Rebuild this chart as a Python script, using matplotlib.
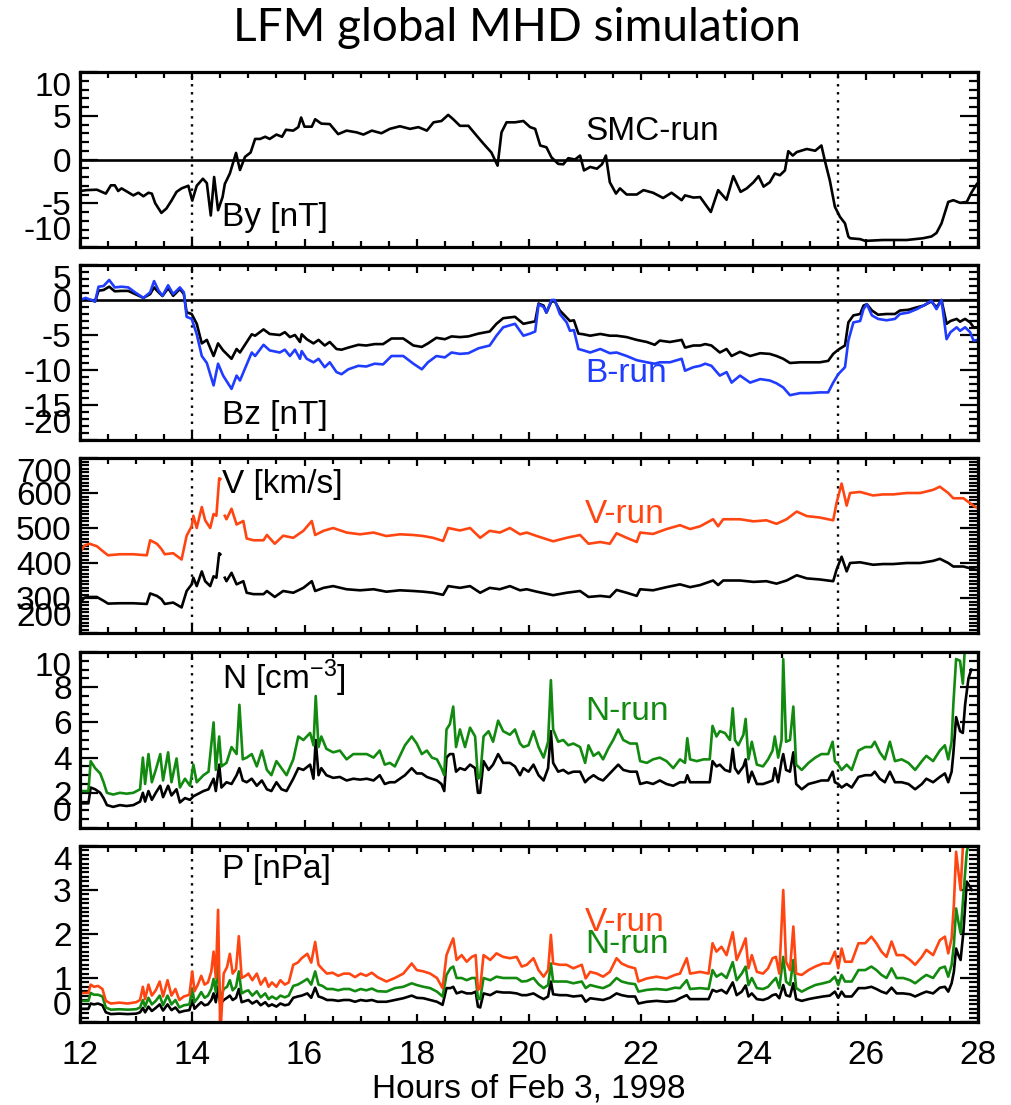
import numpy as np
import matplotlib
matplotlib.use("Agg")
import matplotlib.pyplot as plt
from matplotlib.ticker import MultipleLocator

nan = np.nan

# ---------------------------------------------------------------- By (SMC run)
by_time = [
    12.00, 12.12, 12.30, 12.46, 12.55, 12.62, 12.68, 12.74, 12.95, 13.04,
    13.13, 13.22, 13.28, 13.34, 13.45, 13.54, 13.63, 13.72, 13.81, 13.93,
    14.00, 14.08, 14.19, 14.26, 14.33, 14.39, 14.46, 14.54, 14.58, 14.67,
    14.78, 14.85, 14.94, 15.04, 15.12, 15.21, 15.30, 15.38, 15.50, 15.60,
    15.67, 15.80, 15.89, 15.94, 16.00, 16.13, 16.19, 16.30, 16.45, 16.60,
    16.75, 16.93, 17.05, 17.20, 17.37, 17.52, 17.70, 17.88, 18.03, 18.18,
    18.30, 18.44, 18.56, 18.65, 18.77, 18.92, 19.07, 19.19, 19.33, 19.44,
    19.51, 19.60, 19.75, 19.90, 20.02, 20.11, 20.20, 20.31, 20.40, 20.52,
    20.61, 20.70, 20.82, 20.91, 20.98, 21.09, 21.21, 21.30, 21.37, 21.44,
    21.55, 21.62, 21.74, 21.92, 22.04, 22.21, 22.39, 22.54, 22.72, 22.78,
    22.93, 23.05, 23.24, 23.37, 23.52, 23.64, 23.77, 23.88, 24.00, 24.09,
    24.18, 24.29, 24.38, 24.47, 24.56, 24.62, 24.70, 24.77, 24.95, 25.10,
    25.21, 25.27, 25.36, 25.45, 25.54, 25.63, 25.69, 25.72, 25.90, 25.99,
    26.31, 26.73, 27.02, 27.17, 27.26, 27.35, 27.47, 27.56, 27.68, 27.80,
    27.89, 27.98,
]
by_smc = [
    -3.6, -3.5, -3.45, -3.9, -2.95, -2.95, -3.6, -3.3, -4.1, -3.8,
    -4.2, -3.8, -3.9, -5.0, -6.1, -5.6, -4.7, -3.7, -3.3, -3.0,
    -4.7, -3.0, -2.2, -2.7, -6.4, -2.0, -5.8, -4.3, -2.8, -1.6,
    0.75, -1.2, 0.3, 0.8, 2.35, 2.35, 2.6, 2.35, 2.85, 2.6,
    3.4, 3.3, 3.7, 4.8, 3.75, 3.75, 4.6, 4.1, 4.05, 2.9,
    3.3, 3.1, 2.85, 3.3, 3.0, 3.5, 3.8, 3.5, 3.7, 3.3,
    4.25, 4.4, 5.1, 4.6, 3.85, 3.85, 2.7, 1.8, 0.8, -0.7,
    3.1, 4.25, 4.25, 4.4, 3.7, 3.5, 1.6, 1.4, 0.25, -0.5,
    -0.55, 0.15, 0.0, 0.45, -1.25, -0.85, -1.05, -0.55, 0.45, -2.6,
    -3.9, -3.3, -4.0, -4.0, -3.5, -3.8, -4.4, -3.8, -4.65, -4.1,
    -4.35, -4.3, -6.0, -3.5, -4.6, -1.9, -3.7, -3.3, -2.6, -1.9,
    -3.1, -2.6, -1.6, -1.8, -1.25, 0.95, 0.45, 0.85, 1.2, 1.0,
    1.6, -0.1, -2.4, -5.4, -6.55, -7.3, -8.8, -9.0, -9.1, -9.3,
    -9.2, -9.2, -9.0, -8.8, -8.4, -7.3, -4.85, -4.65, -4.95, -4.85,
    -3.7, -2.8,
]

# ---------------------------------------------------------------- Bz
bz_time = [
    12.00, 12.10, 12.27, 12.33, 12.42, 12.52, 12.62, 12.74, 12.86, 12.98,
    13.13, 13.25, 13.32, 13.40, 13.47, 13.57, 13.66, 13.78, 13.85, 13.90,
    13.99, 14.08, 14.17, 14.26, 14.38, 14.46, 14.55, 14.70, 14.79, 14.85,
    15.06, 15.12, 15.27, 15.38, 15.56, 15.65, 15.74, 15.83, 15.92, 15.95,
    16.04, 16.16, 16.25, 16.36, 16.45, 16.57, 16.66, 16.78, 16.96, 17.10,
    17.25, 17.40, 17.55, 17.76, 17.94, 18.09, 18.20, 18.35, 18.50, 18.62,
    18.77, 18.92, 19.10, 19.30, 19.42, 19.54, 19.75, 19.90, 20.02, 20.11,
    20.17, 20.26, 20.31, 20.40, 20.46, 20.55, 20.67, 20.73, 20.80, 20.88,
    20.97, 21.09, 21.27, 21.44, 21.56, 21.74, 21.92, 22.10, 22.24, 22.33,
    22.51, 22.72, 22.78, 22.93, 23.05, 23.14, 23.25, 23.40, 23.52, 23.61,
    23.76, 23.94, 24.12, 24.29, 24.41, 24.53, 24.65, 24.83, 25.00, 25.18,
    25.33, 25.42, 25.51, 25.63, 25.69, 25.78, 25.90, 25.96, 26.02, 26.11,
    26.22, 26.37, 26.52, 26.61, 26.76, 26.91, 27.03, 27.17, 27.26, 27.35,
    27.44, 27.51, 27.62, 27.68, 27.77, 27.86, 27.92, 28.00,
]
bz_smc = [
    -0.1, 0.15, -0.2, 1.33, 1.43, 1.9, 1.24, 1.3, 1.3, 0.85,
    0.3, 0.85, 1.8, 1.1, 0.57, 1.7, 0.6, 1.57, 0.85, -1.76,
    -2.0, -3.4, -6.2, -5.7, -8.0, -6.2, -7.2, -8.4, -7.0, -7.5,
    -4.9, -5.1, -4.2, -4.85, -5.0, -4.6, -5.3, -5.0, -6.0, -4.9,
    -5.6, -6.2, -5.7, -6.5, -6.0, -7.0, -7.1, -6.8, -6.4, -6.5,
    -6.3, -6.3, -5.5, -5.5, -6.5, -6.7, -6.2, -5.4, -5.6, -5.2,
    -5.3, -5.2, -4.8, -4.5, -3.4, -2.6, -2.4, -3.4, -3.2, -3.05,
    -0.5, -0.8, -1.8, -0.2, -0.2, -1.5, -2.5, -3.0, -2.9, -4.8,
    -4.9, -5.1, -4.85, -5.1, -5.1, -5.3, -5.7, -6.0, -6.4, -5.8,
    -6.0, -5.7, -6.8, -6.5, -6.5, -6.3, -6.5, -7.5, -7.0, -8.0,
    -7.4, -8.0, -7.6, -7.7, -8.0, -8.4, -9.0, -8.9, -8.9, -8.9,
    -8.7, -7.7, -7.1, -6.5, -3.2, -2.2, -2.0, -0.8, -0.6, -1.5,
    -2.1, -2.0, -2.0, -1.5, -1.4, -1.05, -0.8, -0.2, -1.05, 0.0,
    -3.4, -3.0, -2.7, -3.1, -2.7, -3.2, -3.9, -3.9,
]
bz_brun = [
    0.0, 0.3, -0.2, 1.9, 2.0, 2.86, 1.8, 1.9, 1.8, 1.1,
    0.3, 1.1, 2.7, 1.35, 0.6, 2.1, 0.85, 1.8, 1.1, -2.4,
    -2.7, -4.9, -8.0, -9.0, -12.2, -9.1, -10.8, -12.7, -10.8, -11.5,
    -7.5, -8.0, -6.4, -7.2, -7.5, -7.1, -8.0, -7.1, -8.4, -7.3,
    -8.4, -8.9, -8.4, -9.6, -8.9, -10.3, -10.6, -9.9, -9.4, -9.5,
    -9.1, -9.2, -8.0, -8.0, -9.1, -9.9, -8.9, -8.0, -8.2, -7.5,
    -7.7, -7.6, -6.9, -6.5, -5.1, -3.9, -3.4, -5.1, -4.8, -4.5,
    -0.6, -1.0, -1.8, 0.0, 0.0, -2.0, -3.2, -4.4, -4.3, -7.0,
    -7.2, -7.5, -7.0, -7.6, -7.5, -8.0, -8.6, -8.9, -9.1, -8.9,
    -8.9, -8.4, -10.1, -9.6, -9.4, -9.1, -9.4, -10.8, -10.3, -11.8,
    -10.8, -11.8, -11.3, -11.5, -11.9, -12.5, -13.6, -13.3, -13.3, -13.2,
    -13.2, -11.8, -10.6, -9.6, -5.8, -3.2, -3.0, -1.3, -0.6, -2.2,
    -2.7, -2.9, -2.7, -2.0, -1.8, -1.3, -0.8, -0.1, -1.3, 0.0,
    -5.6, -4.6, -3.9, -4.4, -3.9, -4.6, -5.8, -5.7,
]

# ---------------------------------------------------------------- V
v_time = [
    12.00, 12.08, 12.17, 12.30, 12.42, 12.50, 12.71, 12.95, 13.19, 13.25,
    13.37, 13.45, 13.51, 13.66, 13.81, 13.90, 13.99, 14.02, 14.08, 14.17,
    14.23, 14.32, 14.38, 14.43, 14.48, 14.50, 14.53, 14.58, 14.61, 14.70,
    14.79, 14.91, 14.97, 15.09, 15.27, 15.33, 15.47, 15.62, 15.80, 15.98,
    16.13, 16.19, 16.34, 16.51, 16.75, 16.99, 17.23, 17.46, 17.70, 17.94,
    18.12, 18.29, 18.47, 18.56, 18.77, 18.95, 19.13, 19.30, 19.48, 19.66,
    19.84, 19.96, 20.14, 20.43, 20.67, 20.91, 21.06, 21.27, 21.44, 21.56,
    21.74, 21.92, 21.98, 22.21, 22.45, 22.69, 22.87, 23.05, 23.28, 23.37,
    23.46, 23.76, 24.00, 24.23, 24.41, 24.59, 24.77, 24.95, 25.18, 25.42,
    25.48, 25.57, 25.66, 25.72, 25.90, 26.13, 26.31, 26.49, 26.73, 26.97,
    27.20, 27.32, 27.47, 27.56, 27.74, 27.95, 28.00,
]
v_smc = [
    287, 301, 303, 303, 292, 284, 285, 285, 283, 313,
    306, 297, 283, 287, 273, 320, 339, 358, 334, 376,
    348, 334, 362, 358, 428, 425, nan, 358, 348, 372,
    339, 348, 315, 311, 311, 320, 303, 320, 315, 329,
    348, 320, 329, 334, 325, 322, 325, 318, 322, 320,
    318, 315, 309, 334, 329, 334, 315, 329, 325, 334,
    322, 325, 318, 308, 315, 320, 303, 306, 303, 323,
    315, 306, 325, 322, 331, 339, 331, 337, 350, 337,
    350, 350, 346, 348, 341, 350, 365, 356, 353, 348,
    381, 418, 376, 400, 402, 395, 397, 397, 400, 400,
    406, 412, 400, 390, 390, 381, 380,
]
v_vrun = [
    430, 450, 455, 448, 432, 422, 425, 425, 422, 465,
    455, 440, 425, 428, 410, 478, 505, 535, 500, 560,
    522, 500, 540, 535, 642, 640, nan, 535, 525, 555,
    510, 520, 470, 465, 465, 480, 455, 478, 472, 492,
    520, 480, 492, 500, 487, 482, 487, 477, 482, 480,
    477, 472, 463, 500, 493, 500, 472, 492, 487, 500,
    482, 487, 477, 462, 472, 480, 455, 460, 455, 485,
    472, 460, 487, 483, 497, 508, 497, 505, 525, 505,
    525, 525, 519, 522, 512, 525, 547, 534, 530, 522,
    572, 627, 564, 600, 603, 593, 596, 596, 600, 600,
    609, 618, 600, 585, 585, 560, 558,
]

# ---------------------------------------------------------------- N
n_time = [
    12.00, 12.15, 12.19, 12.27, 12.36, 12.42, 12.48, 12.59, 12.71, 12.83,
    12.95, 13.07, 13.12, 13.16, 13.22, 13.28, 13.35, 13.43, 13.48, 13.57,
    13.63, 13.72, 13.78, 13.87, 13.96, 14.02, 14.08, 14.20, 14.29, 14.38,
    14.42, 14.48, 14.52, 14.61, 14.70, 14.79, 14.84, 14.90, 14.97, 15.06,
    15.15, 15.24, 15.33, 15.41, 15.50, 15.59, 15.68, 15.80, 15.89, 15.98,
    16.10, 16.16, 16.20, 16.25, 16.30, 16.39, 16.51, 16.63, 16.75, 16.87,
    16.99, 17.11, 17.23, 17.34, 17.43, 17.52, 17.61, 17.70, 17.79, 17.91,
    18.00, 18.09, 18.18, 18.27, 18.36, 18.44, 18.49, 18.53, 18.59, 18.65,
    18.70, 18.77, 18.86, 18.95, 19.04, 19.09, 19.13, 19.19, 19.28, 19.36,
    19.45, 19.54, 19.66, 19.75, 19.84, 19.90, 19.99, 20.08, 20.17, 20.26,
    20.34, 20.39, 20.43, 20.52, 20.61, 20.70, 20.79, 20.91, 21.00, 21.06,
    21.15, 21.24, 21.32, 21.41, 21.50, 21.59, 21.68, 21.80, 21.92, 21.98,
    22.10, 22.21, 22.33, 22.45, 22.57, 22.69, 22.78, 22.82, 22.87, 22.99,
    23.11, 23.22, 23.27, 23.34, 23.40, 23.49, 23.58, 23.63, 23.67, 23.73,
    23.82, 23.86, 23.91, 23.97, 24.06, 24.17, 24.26, 24.34, 24.38, 24.44,
    24.50, 24.53, 24.58, 24.65, 24.71, 24.76, 24.86, 24.98, 25.10, 25.21,
    25.33, 25.41, 25.45, 25.51, 25.57, 25.66, 25.75, 25.87, 25.99, 26.10,
    26.16, 26.25, 26.34, 26.43, 26.52, 26.64, 26.76, 26.88, 27.00, 27.08,
    27.20, 27.32, 27.41, 27.47, 27.53, 27.56, 27.61, 27.68, 27.73, 27.77,
    27.83, 27.88,
]
n_smc = [
    1.4, 1.4, 2.3, 2.2, 2.0, 1.7, 1.3, 1.2, 1.3, 1.25,
    1.3, 1.5, 2.0, 1.5, 2.1, 1.6, 2.0, 2.4, 1.75, 2.4,
    1.85, 2.2, 1.45, 1.7, 1.6, 1.8, 1.9, 2.1, 2.2, 2.8,
    2.1, 3.6, 2.3, 2.6, 2.5, 3.0, 3.4, 2.7, 2.6, 2.8,
    2.4, 2.7, 2.2, 2.1, 2.6, 2.2, 2.1, 2.8, 3.4, 3.3,
    3.6, 2.8, 5.0, 3.0, 3.4, 3.0, 2.85, 2.9, 2.7, 2.8,
    2.75, 2.8, 2.7, 3.0, 2.5, 2.6, 2.6, 2.8, 3.0, 3.4,
    3.1, 3.1, 2.9, 2.8, 2.7, 2.5, 2.1, 4.0, 4.2, 4.2,
    3.2, 3.4, 3.3, 3.6, 3.4, 2.0, 2.0, 3.8, 3.3, 3.6,
    4.2, 3.7, 3.7, 3.5, 3.0, 3.4, 3.2, 3.6, 3.0, 2.7,
    3.4, 5.5, 3.7, 3.2, 3.3, 3.1, 3.2, 3.2, 2.6, 2.8,
    3.0, 2.8, 2.7, 3.0, 3.3, 3.6, 3.3, 3.2, 3.2, 2.5,
    2.6, 2.5, 2.7, 2.5, 2.4, 2.6, 2.6, 3.0, 2.6, 2.6,
    2.6, 2.6, 3.8, 3.5, 3.6, 3.3, 3.2, 4.5, 3.4, 3.1,
    3.5, 3.9, 2.6, 3.2, 2.5, 2.5, 2.6, 2.7, 3.4, 2.6,
    3.8, 4.2, 3.3, 3.2, 4.3, 2.5, 2.2, 2.5, 2.6, 2.7,
    2.7, 3.2, 2.6, 2.5, 2.3, 2.5, 2.3, 2.9, 3.0, 3.0,
    3.2, 2.8, 2.6, 3.2, 2.6, 2.6, 2.5, 2.2, 2.5, 2.8,
    2.6, 2.9, 3.1, 2.6, 3.2, 4.2, 6.3, 5.5, 5.4, 7.0,
    8.5, 9.0,
]
n_nrun = [
    2.1, 2.1, 3.8, 3.4, 3.1, 2.6, 2.0, 1.9, 2.0, 1.95,
    2.0, 2.2, 4.0, 2.5, 4.2, 2.6, 3.3, 4.2, 2.7, 4.3,
    2.6, 3.95, 2.3, 2.8, 2.4, 3.6, 2.6, 3.0, 3.2, 6.0,
    3.3, 5.2, 3.5, 3.7, 4.6, 4.2, 7.0, 3.9, 4.0, 4.2,
    3.5, 4.4, 3.3, 3.0, 3.8, 3.4, 3.0, 3.9, 5.2, 5.0,
    5.4, 4.7, 7.5, 4.6, 5.2, 4.5, 4.3, 4.4, 3.9, 4.2,
    4.2, 4.2, 4.0, 4.4, 3.6, 3.7, 3.5, 4.1, 4.7, 5.2,
    4.8, 4.2, 4.4, 4.0, 3.9, 3.4, 3.0, 5.6, 5.9, 6.9,
    4.6, 5.6, 4.6, 5.7, 5.2, 2.8, 2.9, 5.2, 5.5, 4.9,
    6.1, 5.5, 5.3, 5.6, 4.8, 4.6, 4.7, 5.5, 4.6, 4.0,
    4.9, 8.4, 5.6, 4.9, 5.0, 4.7, 4.8, 4.6, 3.7, 4.7,
    4.1, 4.3, 3.9, 4.5, 5.0, 5.6, 5.0, 4.8, 4.8, 3.8,
    3.7, 3.9, 4.0, 3.8, 3.4, 3.9, 3.7, 5.1, 3.9, 3.8,
    3.9, 3.9, 5.8, 5.2, 5.5, 5.4, 5.0, 6.8, 5.0, 4.7,
    5.3, 6.2, 3.9, 4.9, 3.6, 3.5, 3.9, 4.4, 5.2, 4.0,
    5.0, 9.6, 4.9, 5.0, 6.9, 3.6, 3.3, 3.7, 4.0, 4.2,
    4.2, 4.9, 3.8, 3.6, 3.3, 3.6, 3.3, 4.4, 4.6, 4.6,
    4.9, 4.3, 3.9, 4.9, 3.8, 3.9, 3.7, 3.3, 3.8, 4.1,
    3.8, 4.4, 4.7, 3.9, 4.9, 7.0, 9.6, 9.5, 8.2, 10.5,
    10.8, 11.0,
]

# ---------------------------------------------------------------- P
p_time = [
    12.00, 12.15, 12.19, 12.25, 12.32, 12.40, 12.46, 12.55, 12.70, 12.85,
    13.00, 13.07, 13.12, 13.16, 13.22, 13.28, 13.35, 13.42, 13.48, 13.56,
    13.63, 13.70, 13.77, 13.85, 13.95, 14.00, 14.04, 14.10, 14.16, 14.22,
    14.28, 14.34, 14.38, 14.42, 14.46, 14.50, 14.56, 14.62, 14.67, 14.72,
    14.78, 14.83, 14.88, 14.95, 15.00, 15.07, 15.15, 15.22, 15.30, 15.36,
    15.42, 15.50, 15.57, 15.65, 15.72, 15.80, 15.88, 15.95, 16.05, 16.12,
    16.19, 16.25, 16.32, 16.40, 16.50, 16.60, 16.70, 16.80, 16.90, 17.00,
    17.10, 17.20, 17.30, 17.46, 17.61, 17.76, 17.91, 18.00, 18.12, 18.24,
    18.36, 18.46, 18.53, 18.60, 18.65, 18.71, 18.80, 18.89, 18.98, 19.05,
    19.09, 19.13, 19.19, 19.31, 19.42, 19.54, 19.66, 19.78, 19.87, 19.96,
    20.08, 20.17, 20.26, 20.34, 20.39, 20.43, 20.55, 20.67, 20.79, 20.94,
    21.01, 21.09, 21.21, 21.32, 21.44, 21.56, 21.65, 21.77, 21.89, 21.95,
    22.10, 22.27, 22.45, 22.60, 22.69, 22.81, 22.87, 23.05, 23.20, 23.27,
    23.34, 23.43, 23.52, 23.63, 23.70, 23.79, 23.86, 23.91, 23.97, 24.06,
    24.17, 24.26, 24.34, 24.40, 24.46, 24.53, 24.58, 24.65, 24.71, 24.76,
    24.86, 24.98, 25.10, 25.24, 25.36, 25.45, 25.51, 25.57, 25.63, 25.75,
    25.87, 25.99, 26.10, 26.19, 26.28, 26.37, 26.46, 26.55, 26.67, 26.79,
    26.88, 27.00, 27.08, 27.20, 27.32, 27.41, 27.47, 27.53, 27.57, 27.61,
    27.65, 27.69, 27.74, 27.80, 27.89,
]
p_smc = [
    .30, .30, .42, .40, .42, .38, .22, .18, .19, .18,
    .19, .22, .32, .22, .35, .25, .32, .40, .26, .40,
    .27, .33, .22, .25, .27, .50, .30, .38, .45, .38,
    .40, .50, .65, .45, .80, .40, .50, .55, .60, .50,
    .55, .75, .45, .48, .50, .42, .48, .38, .45, .36,
    .40, .35, .42, .38, .40, .55, .58, .60, .65, .55,
    .78, .58, .55, .50, .50, .48, .50, .50, .46, .50,
    .48, .50, .46, .46, .50, .54, .60, .55, .54, .50,
    .46, .39, .77, .77, .80, .65, .69, .65, .65, .69,
    .35, .33, .65, .61, .69, .67, .67, .65, .61, .61,
    .65, .58, .52, .58, .92, .63, .61, .61, .58, .60,
    .46, .54, .52, .50, .55, .65, .61, .58, .58, .42,
    .46, .48, .46, .48, .54, .61, .52, .52, .52, .73,
    .69, .73, .65, .90, .61, .69, .83, .58, .65, .52,
    .50, .54, .61, .63, .54, .84, .61, .58, .88, .52,
    .48, .52, .55, .58, .60, .69, .55, .69, .58, .58,
    .77, .77, .80, .75, .69, .65, .78, .65, .65, .63,
    .58, .65, .69, .65, .78, .80, .69, .88, 1.14, 1.67,
    1.52, 1.41, 2.05, 3.19, 3.0,
]
p_nrun = [
    .48, .48, .66, .62, .62, .58, .33, .28, .29, .28,
    .29, .33, .50, .35, .55, .40, .48, .60, .38, .60,
    .40, .50, .33, .38, .40, .75, .45, .55, .68, .55,
    .60, .75, .98, .68, 1.3, .50, .75, .80, .95, .72,
    .80, 1.15, .65, .70, .72, .60, .70, .56, .65, .52,
    .58, .52, .60, .56, .60, .82, .85, .90, .98, .85,
    1.15, .85, .82, .75, .75, .72, .75, .75, .70, .75,
    .72, .76, .70, .69, .77, .80, .88, .84, .80, .77,
    .69, .58, 1.07, 1.22, 1.26, 1.0, 1.0, .95, 1.0, 1.0,
    .54, .52, 1.0, .95, 1.03, 1.0, 1.0, 1.0, .92, .93,
    1.0, .86, .77, .84, 1.33, .92, .92, .92, .88, .92,
    .77, .84, .80, .77, .84, 1.0, .92, .88, .86, .69,
    .73, .75, .73, .78, .77, .95, .75, .77, .75, 1.18,
    1.03, 1.1, 1.0, 1.36, .95, 1.1, 1.26, .84, 1.0, .77,
    .75, .80, .92, 1.0, .77, 1.48, .92, .84, 1.41, .77,
    .69, .77, .84, .88, .92, 1.03, .84, 1.07, .92, .92,
    1.18, 1.18, 1.26, 1.18, 1.07, 1.0, 1.22, 1.0, 1.0, .95,
    .88, 1.0, 1.07, 1.0, 1.22, 1.26, 1.03, 1.3, 1.75, 2.58,
    2.28, 2.02, 2.89, 3.87, 4.3,
]
p_vrun = [
    .66, .66, .85, .80, .82, .75, .48, .42, .44, .42,
    .45, .50, .80, .52, .85, .60, .72, .92, .58, .95,
    .60, .75, .50, .58, .62, 1.15, .70, .85, 1.05, .85,
    .90, 1.15, 1.6, 1.0, 2.55, -0.3, 1.1, 1.25, 1.55, 1.1,
    1.2, 1.95, 1.0, 1.05, 1.1, .95, 1.1, .85, 1.0, .80,
    .90, .80, .95, .85, .90, 1.3, 1.35, 1.45, 1.55, 1.35,
    1.82, 1.3, 1.2, 1.1, 1.12, 1.05, 1.1, 1.1, 1.02, 1.1,
    1.05, 1.12, 1.02, .92, 1.0, 1.1, 1.33, 1.18, 1.15, 1.1,
    1.0, .77, 1.52, 1.75, 1.9, 1.41, 1.52, 1.37, 1.48, 1.52,
    .73, .77, 1.52, 1.41, 1.56, 1.48, 1.45, 1.48, 1.26, 1.3,
    1.45, 1.18, 1.03, 1.18, 1.98, 1.33, 1.3, 1.3, 1.22, 1.3,
    .99, 1.14, 1.1, 1.03, 1.14, 1.45, 1.33, 1.26, 1.22, .92,
    .99, 1.03, .99, 1.07, 1.1, 1.45, 1.1, 1.14, 1.1, 1.79,
    1.6, 1.71, 1.52, 2.04, 1.41, 1.67, 1.9, 1.22, 1.52, 1.14,
    1.1, 1.22, 1.45, 1.48, 1.1, 3.0, 1.37, 1.18, 2.17, 1.1,
    1.07, 1.18, 1.26, 1.33, 1.33, 1.6, 1.22, 1.67, 1.37, 1.37,
    1.79, 1.79, 1.94, 1.79, 1.6, 1.48, 1.83, 1.52, 1.52, 1.41,
    1.3, 1.48, 1.64, 1.52, 1.86, 1.94, 1.56, 1.9, 2.66, 3.87,
    3.42, 3.0, 4.2, 4.4, 4.6,
]

# ---------------------------------------------------------------- style
ORANGE = "#ff4612"
BLUE = "#1f3cff"
GREEN = "#128a10"
LW = 1.9
TICK_FS = 24
NOTE_FS = 24

plt.rcParams["font.family"] = ["Liberation Sans", "DejaVu Sans"]
plt.rcParams["axes.unicode_minus"] = False
plt.rcParams["mathtext.fontset"] = "custom"
plt.rcParams["mathtext.rm"] = "Liberation Sans"
plt.rcParams["mathtext.default"] = "regular"

W, H = 1012, 1105
fig = plt.figure(figsize=(W / 100, H / 100), dpi=100)

panel_rows = [(72, 247), (265, 440), (458, 633), (652, 828), (846, 1022)]
x0, x1 = 80, 978
axes = [fig.add_axes([x0 / W, 1 - b / H, (x1 - x0) / W, (b - t) / H])
        for t, b in panel_rows]

limits = [(-10, 10), (-20, 5), (200, 700), (0, 10), (0, 4)]
majors = [5, 5, 100, 2, 1]
minors = [1, 1, 10, 0.5, 0.1]

for i, ax in enumerate(axes):
    ax.set_xlim(12, 28)
    ax.set_ylim(*limits[i])
    ax.xaxis.set_major_locator(MultipleLocator(2))
    ax.xaxis.set_minor_locator(MultipleLocator(0.5))
    ax.yaxis.set_major_locator(MultipleLocator(majors[i]))
    ax.yaxis.set_minor_locator(MultipleLocator(minors[i]))
    ax.tick_params(axis="both", which="both", direction="in",
                   top=True, right=True, width=1.6, color="black")
    ax.tick_params(axis="y", which="major", length=13, labelsize=TICK_FS,
                   pad=6)
    ax.tick_params(axis="y", which="minor", length=6.5)
    ax.tick_params(axis="x", which="major", length=6, labelsize=TICK_FS,
                   pad=13, labelbottom=(i == len(axes) - 1))
    ax.tick_params(axis="x", which="minor", length=4)
    for sp in ax.spines.values():
        sp.set_linewidth(2.3)
    for tv in (14.0, 25.5):
        ax.axvline(tv, color="black", lw=1.7, ls=(0, (1, 2.4)), zorder=1)

    # the outermost tick labels sit inside the frame
    lo, hi = limits[i]
    for val, lab in zip(ax.get_yticks(), ax.get_yticklabels()):
        if np.isclose(val, hi):
            lab.set_verticalalignment("top")
        elif np.isclose(val, lo):
            lab.set_verticalalignment("bottom")

ax_by, ax_bz, ax_v, ax_n, ax_p = axes

# By
ax_by.axhline(0, color="black", lw=LW)
ax_by.plot(by_time, by_smc, color="black", lw=LW)

# Bz
ax_bz.axhline(0, color="black", lw=LW)
ax_bz.plot(bz_time, bz_smc, color="black", lw=LW)
ax_bz.plot(bz_time, bz_brun, color=BLUE, lw=LW)

# V
ax_v.plot(v_time, v_smc, color="black", lw=LW)
ax_v.plot(v_time, v_vrun, color=ORANGE, lw=LW)

# N
ax_n.plot(n_time, n_smc, color="black", lw=LW)
ax_n.plot(n_time, n_nrun, color=GREEN, lw=LW)

# P
ax_p.plot(p_time, p_smc, color="black", lw=LW)
ax_p.plot(p_time, p_nrun, color=GREEN, lw=LW)
ax_p.plot(p_time, p_vrun, color=ORANGE, lw=LW)

# panel annotations: x in hours, y in axes fraction
LX, RX = 14.53, 21.0
def note(ax, x, y, s, color="black"):
    ax.text(x, y, s, transform=ax.get_xaxis_transform(), fontsize=NOTE_FS,
            color=color, ha="left", va="center")

note(ax_by, LX, 0.17, "By [nT]")
note(ax_by, RX, 0.66, "SMC-run")
note(ax_bz, LX, 0.14, "Bz [nT]")
note(ax_bz, RX, 0.38, "B-run", BLUE)
note(ax_v, LX, 0.85, "V [km/s]")
note(ax_v, RX, 0.675, "V-run", ORANGE)
note(ax_n, LX, 0.85, "N [cm$^{-3}$]")
note(ax_n, RX, 0.66, "N-run", GREEN)
note(ax_p, LX, 0.865, "P [nPa]")
note(ax_p, RX, 0.565, "V-run", ORANGE)
note(ax_p, RX, 0.44, "N-run", GREEN)

ax_p.set_xlabel("Hours of Feb 3, 1998", fontsize=24, labelpad=2)

fig.text(0.511, 1 - 28 / H, "LFM global MHD simulation", ha="center",
         va="center", fontsize=33, family=["Lato", "DejaVu Sans"])

fig.savefig("out.png", dpi=100, facecolor="white")
